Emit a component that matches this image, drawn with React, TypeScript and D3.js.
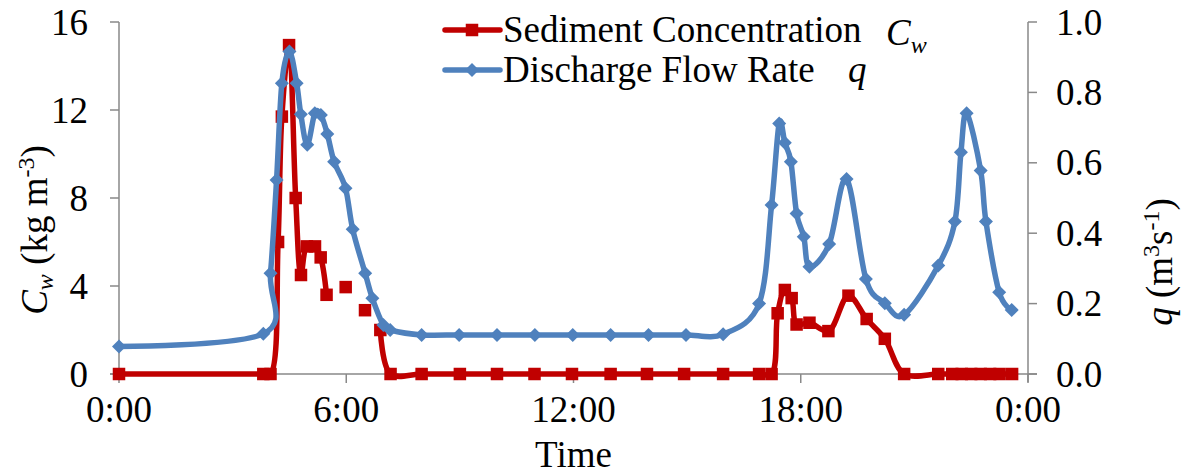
import React from 'react';
import * as d3 from 'd3';

// hours since 0:00 and discharge q (m3/s), right axis
const qTime = [0, 3.81, 4.0, 4.16, 4.3, 4.5, 4.69, 4.8, 4.97, 5.17, 5.33, 5.5, 5.68, 5.98, 6.17, 6.5, 6.69, 6.98, 7.16, 7.99, 8.98, 9.98, 10.98, 11.98, 12.98, 13.98, 14.97, 15.95, 16.9, 17.23, 17.43, 17.58, 17.74, 17.89, 18.08, 18.23, 18.75, 19.21, 19.72, 20.22, 20.73, 21.63, 22.07, 22.23, 22.38, 22.75, 22.89, 23.24, 23.57];
const qValue = [0.078, 0.114, 0.286, 0.551, 0.826, 0.916, 0.826, 0.738, 0.651, 0.741, 0.736, 0.682, 0.603, 0.528, 0.411, 0.286, 0.215, 0.139, 0.125, 0.111, 0.111, 0.111, 0.111, 0.111, 0.111, 0.111, 0.111, 0.113, 0.2, 0.48, 0.712, 0.657, 0.603, 0.456, 0.39, 0.305, 0.369, 0.554, 0.27, 0.201, 0.168, 0.308, 0.433, 0.63, 0.741, 0.578, 0.433, 0.232, 0.182];

// sediment concentration Cw (kg/m3), left axis; null = break in the line
const cwTime = [0, 3.81, 4.0, 4.2, 4.3, 4.49, 4.665, 4.805, 4.96, 5.175, 5.325, 5.48, 5.7, 5.985, 6.2, 6.495, 6.7, 6.9, 7.17, 7.99, 9.0, 9.98, 10.97, 11.96, 12.98, 13.94, 14.92, 15.95, 16.9, 17.23, 17.39, 17.58, 17.76, 17.89, 18.23, 18.73, 19.26, 19.74, 20.22, 20.73, 21.63, 22.0, 22.25, 22.5, 22.75, 23.0, 23.25, 23.58];
const cwValue = [0, 0, 0, 6.0, 11.7, 14.95, 8.0, 4.5, 5.8, 5.8, 5.3, 3.6, null, 3.95, null, 2.9, null, 2.0, 0, 0, 0, 0, 0, 0, 0, 0, 0, 0, 0, 0, 2.76, 3.82, 3.45, 2.25, 2.33, 1.95, 3.56, 2.5, 1.6, 0, 0, 0, 0, 0, 0, 0, 0, 0];

const xTicks = [0, 6, 12, 18, 24];
const xTickLabels = ['0:00', '6:00', '12:00', '18:00', '0:00'];
const leftTicks = [0, 4, 8, 12, 16];
const rightTicks = [0, 0.2, 0.4, 0.6, 0.8, 1.0];

const RED = '#C00000';
const BLUE = '#4F81BD';
const AXIS = '#898989';
const FONT = 'Liberation Serif, DejaVu Serif, serif';

const width = 1185;
const height = 476;
const margin = { top: 22, bottom: 102, left: 119, right: 157 };

const App = () => {
  const x = d3.scaleLinear().domain([0, 24]).range([margin.left, width - margin.right]);
  const yL = d3.scaleLinear().domain([0, 16]).range([height - margin.bottom, margin.top]);
  const yR = d3.scaleLinear().domain([0, 1]).range([height - margin.bottom, margin.top]);
  const y0 = yL(0);

  const qData = qTime.map((t, i) => [t, qValue[i]] as [number, number]);
  const cwData = cwTime.map((t, i) => [t, cwValue[i]] as [number, number | null]);

  const qLine = d3.line<[number, number]>().x(d => x(d[0])).y(d => yR(d[1])).curve(d3.curveCardinal.tension(0));
  const cwLine = d3.line<[number, number | null]>()
    .defined(d => d[1] !== null)
    .x(d => x(d[0])).y(d => yL(d[1] as number)).curve(d3.curveCatmullRom.alpha(0.5));

  const sq = 12.5;
  const dm = 7;
  const lw = 5.5;
  const diamond = (cx: number, cy: number) => `M${cx},${cy - dm}L${cx + dm},${cy}L${cx},${cy + dm}L${cx - dm},${cy}Z`;

  const fs = 37;
  const sub = 24;

  return (
    <svg width={width} height={height}
      style={{ position: 'absolute', left: 0, top: 0, background: '#fff', fontFamily: FONT, fontSize: fs }}>
      {/* axes */}
      <line x1={x(0)} x2={x(0)} y1={yL(16)} y2={y0} stroke={AXIS} strokeWidth={1.5} />
      <line x1={x(24)} x2={x(24)} y1={yR(1)} y2={y0 + 8} stroke={AXIS} strokeWidth={1.5} />
      <line x1={x(0) - 9} x2={x(24) + 9} y1={y0} y2={y0} stroke={AXIS} strokeWidth={1.5} />
      {leftTicks.map(v => (
        <g key={`l-${v}`}>
          <line x1={x(0) - 9} x2={x(0)} y1={yL(v)} y2={yL(v)} stroke={AXIS} strokeWidth={1.5} />
          <text x={88} y={yL(v)} dy="0.34em" textAnchor="end">{v}</text>
        </g>
      ))}
      {rightTicks.map(v => (
        <g key={`r-${v}`}>
          <line x1={x(24)} x2={x(24) + 9} y1={yR(v)} y2={yR(v)} stroke={AXIS} strokeWidth={1.5} />
          <text x={1056} y={yR(v)} dy="0.34em" textAnchor="start">{v.toFixed(1)}</text>
        </g>
      ))}
      {xTicks.map((v, i) => (
        <g key={`x-${i}`}>
          <line x1={x(v)} x2={x(v)} y1={y0} y2={y0 + 9} stroke={AXIS} strokeWidth={1.5} />
          <text x={x(v)} y={422} textAnchor="middle">{xTickLabels[i]}</text>
        </g>
      ))}

      {/* axis titles */}
      <text x={x(12)} y={467} textAnchor="middle">Time</text>
      <text transform={`translate(47,230) rotate(-90)`} textAnchor="middle">
        <tspan fontStyle="italic">C</tspan>
        <tspan fontStyle="italic" fontSize={sub} dy={6}>w</tspan>
        <tspan dy={-6}> (kg m</tspan>
        <tspan fontSize={sub} dy={-13}>-3</tspan>
        <tspan dy={13}>)</tspan>
      </text>
      <text transform={`translate(1172,262) rotate(-90)`} textAnchor="middle">
        <tspan fontStyle="italic">q</tspan>
        <tspan> (m</tspan>
        <tspan fontSize={sub} dy={-13}>3</tspan>
        <tspan dy={13}>s</tspan>
        <tspan fontSize={sub} dy={-13}>-1</tspan>
        <tspan dy={13}>)</tspan>
      </text>

      {/* sediment concentration */}
      <path d={cwLine(cwData) || ''} fill="none" stroke={RED} strokeWidth={lw} strokeLinejoin="round" />
      {cwData.filter(d => d[1] !== null).map((d, i) => (
        <rect key={`cw-${i}`} x={x(d[0]) - sq / 2} y={yL(d[1] as number) - sq / 2} width={sq} height={sq} fill={RED} />
      ))}

      {/* discharge flow rate */}
      <path d={qLine(qData) || ''} fill="none" stroke={BLUE} strokeWidth={lw} strokeLinejoin="round" />
      {qData.map((d, i) => (
        <path key={`q-${i}`} d={diamond(x(d[0]), yR(d[1]))} fill={BLUE} />
      ))}

      {/* legend */}
      <line x1={445} x2={500} y1={30} y2={30} stroke={RED} strokeWidth={lw} strokeLinecap="round" />
      <rect x={472 - sq / 2} y={30 - sq / 2} width={sq} height={sq} fill={RED} />
      <text x={503} y={42}>Sediment Concentration</text>
      <text x={886} y={45} fontStyle="italic">C<tspan fontSize={sub} dy={8}>w</tspan></text>
      <line x1={445} x2={500} y1={70} y2={70} stroke={BLUE} strokeWidth={lw} strokeLinecap="round" />
      <path d={diamond(472, 70)} fill={BLUE} />
      <text x={503} y={82}>Discharge Flow Rate</text>
      <text x={848} y={82} fontStyle="italic">q</text>
    </svg>
  );
};

export default App;
